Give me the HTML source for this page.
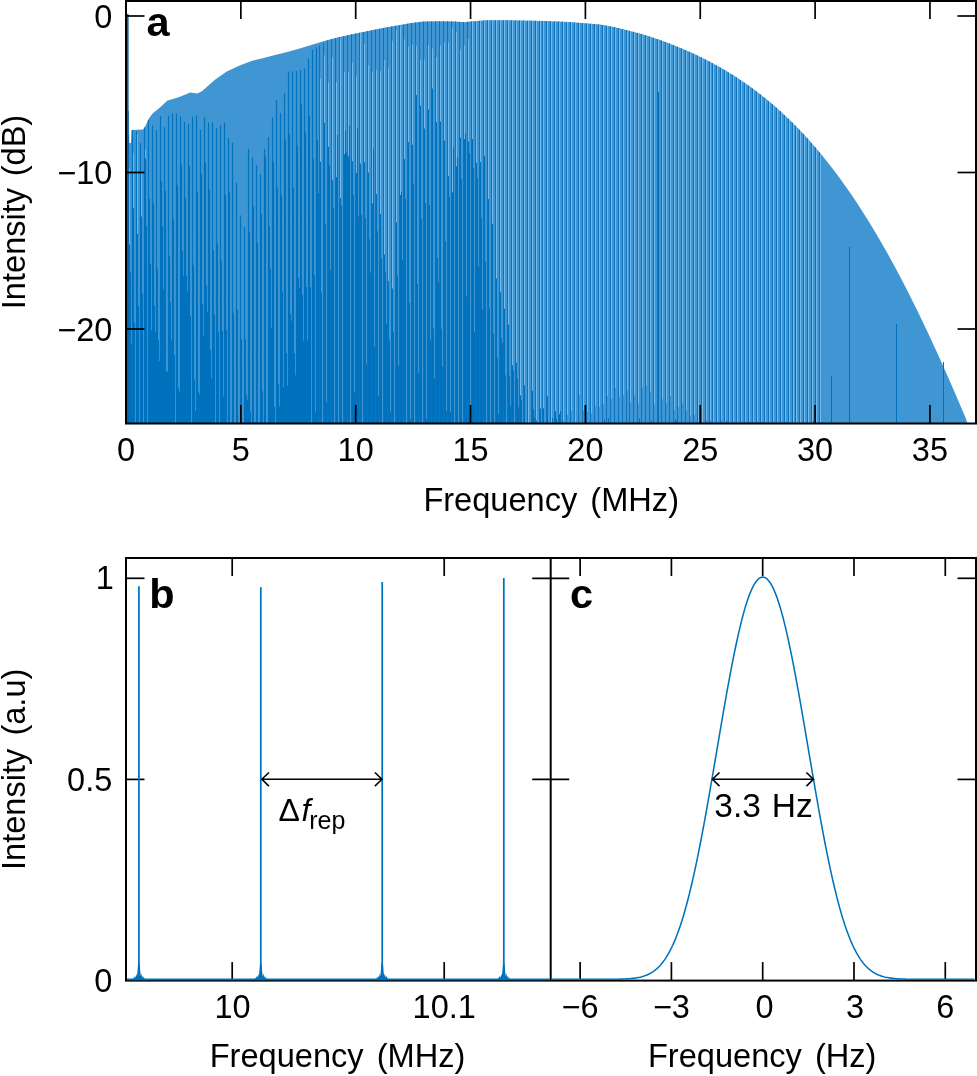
<!DOCTYPE html>
<html lang="en">
<head>
<meta charset="utf-8">
<title>Dual-comb RF spectrum figure</title>
<style>
html,body{margin:0;padding:0;background:#fff;}
body{width:977px;height:1076px;overflow:hidden;}
svg{display:block;font-family:'Liberation Sans', sans-serif;fill:#000;}
</style>
</head>
<body>
<svg width="977" height="1076" viewBox="0 0 977 1076">
<rect width="977" height="1076" fill="#fff"/>
<g id="panel-a">
<path fill="#3F96D2" d="M127.8 424L127.8 111L129 111L129.2 143L131 143L131.5 130L143 129.5L143.5 129L145.4 126L148.7 118.7L152.8 113.3L156.9 110L161 106.4L167.5 100.6L177.3 97.8L185.5 94.5L190 92.6L197.4 93.4L202.3 91.1L214.6 80.1L226.8 71.5L239.1 65.8L251.4 60.9L263.7 58L276 54.8L288.3 51.8L300.5 48.2L312.8 44.5L325.1 40.8L337.4 37.6L349.7 34.7L362 32.2L374.2 29.7L386.5 27.3L398.8 25.3L411.1 23.1L423.4 21.6L438 21.2L455 21.4L464.5 22.2L470 21.6L487 20.3L505 20.2L520 20.5L545 21L569 22L600 24.62L606 25.62L612 26.75L618 28L624 29.39L630 30.89L636 32.5L642 34.23L648 36.07L654 38.02L660 40.08L666 42.25L672 44.53L678 46.93L684 49.45L690 52.09L696 54.86L702 57.77L708 60.81L714 64L720 67.34L726 70.85L732 74.52L738 78.36L744 82.39L750 86.61L756 91.04L762 95.66L768 100.51L774 105.58L780 110.89L786 116.44L792 122.24L798 128.29L804 134.62L810 141.21L816 148.09L822 155.25L828 162.71L834 170.47L840 178.53L846 186.9L852 195.58L858 204.58L864 213.9L870 223.54L876 233.49L882 243.77L888 254.37L894 265.29L900 276.52L906 288.06L912 299.91L918 312.05L924 324.49L930 337.21L936 350.2L942 363.45L948 376.95L954 390.68L960 404.63L966 418.77L967.5 424L967.5 424z"/>
<path fill="#74BBEE" d="M129 424V168.19h1V424zM133 424V152.95h1V424zM137 424V133.82h1V424zM141 424V172.98h1V424zM145 424V149.56h1V424zM320 424V78.45h1V424zM324 424V55.22h1V424zM328 424V82.67h1V424zM332 424V57.5h1V424zM336 424V82.03h1V424zM340 424V38.74h1V424zM344 424V71.54h1V424zM348 424V72.32h1V424zM352 424V62.44h1V424zM356 424V76.45h1V424zM360 424V32.99h1V424zM364 424V43.94h1V424zM368 424V64.9h1V424zM372 424V72.02h1V424zM376 424V70.2h1V424zM380 424V70.96h1V424zM384 424V60.18h1V424zM388 424V67.47h1V424zM392 424V40.74h1V424zM396 424V29.4h1V424zM400 424V26.27h1V424zM404 424V39.36h1V424zM408 424V46.81h1V424zM412 424V45.1h1V424zM416 424V46.14h1V424zM420 424V59.92h1V424zM424 424V59.61h1V424zM428 424V45.05h1V424zM432 424V48.59h1V424zM436 424V57.29h1V424zM440 424V45.47h1V424zM444 424V42.57h1V424zM448 424V42.77h1V424zM452 424V27.2h1V424zM456 424V31.75h1V424zM460 424V49.75h1V424zM464 424V45.17h1V424zM468 424V38.67h1V424zM472 424V21.41h1V424zM476 424V21.1h1V424zM480 424V20.8h1V424zM484 424V20.49h1V424zM488 424V20.29h1V424zM492 424V20.27h1V424zM496 424V20.25h1V424zM500 424V20.23h1V424zM504 424V20.2h1V424zM508 424V20.27h1V424zM512 424V20.35h1V424zM516 424V20.43h1V424zM520 424V20.51h1V424zM524 424V20.59h1V424zM528 424V20.67h1V424zM532 424V20.75h1V424zM536 424V20.83h1V424zM540 424V20.91h1V424zM543 424V20.97h1V424zM547 424V21.1h1V424zM551 424V21.27h1V424zM555 424V21.44h1V424zM559 424V21.6h1V424zM563 424V21.77h1V424zM567 424V21.94h1V424zM571 424V22.21h1V424zM575 424V22.55h1V424zM579 424V22.89h1V424zM583 424V23.23h1V424zM587 424V23.57h1V424zM591 424V23.9h1V424zM595 424V24.24h1V424zM599 424V24.58h1V424zM603 424V25.2h1V424zM607 424V25.9h1V424zM611 424V26.65h1V424zM615 424V27.48h1V424zM619 424V28.35h1V424zM623 424V29.27h1V424zM627 424V30.26h1V424zM630 424V31.02h1V424zM634 424V32.1h1V424zM638 424V33.22h1V424zM642 424V34.38h1V424zM646 424V35.61h1V424zM650 424V36.88h1V424zM654 424V38.19h1V424zM658 424V39.56h1V424zM662 424V40.98h1V424zM666 424V42.44h1V424zM670 424V43.96h1V424zM674 424V45.53h1V424zM678 424V47.14h1V424zM682 424V48.82h1V424zM686 424V50.55h1V424zM690 424V52.32h1V424zM694 424V54.17h1V424zM698 424V56.07h1V424zM702 424V58.02h1V424zM706 424V60.05h1V424zM710 424V62.14h1V424zM713 424V63.73h1V424zM717 424V65.95h1V424zM721 424V68.22h1V424zM725 424V70.55h1V424zM729 424V72.99h1V424zM733 424V75.48h1V424zM737 424V78.04h1V424zM741 424V80.71h1V424zM745 424V83.45h1V424zM749 424V86.26h1V424zM753 424V89.19h1V424zM757 424V92.19h1V424zM761 424V95.28h1V424zM765 424V98.49h1V424zM769 424V101.78h1V424zM773 424V105.16h1V424zM777 424V108.68h1V424zM781 424V112.28h1V424zM785 424V115.98h1V424zM789 424V119.82h1V424zM793 424V123.75h1V424zM796 424V126.78h1V424zM800 424V130.93h1V424zM804 424V135.17h1V424zM808 424V139.56h1V424zM812 424V144.08h1V424zM816 424V148.69h1V424zM820 424V153.46h1V424z"/>
<path fill="#0C74BE" d="M319 424V45.5h1V424zM323 424V43h1V424zM327 424V40.18h1V424zM331 424V39.13h1V424zM335 424V38.09h1V424zM339 424V37.1h1V424zM343 424V36.16h1V424zM347 424V35.22h1V424zM351 424V34.33h1V424zM355 424V33.52h1V424zM359 424V32.71h1V424zM363 424V31.89h1V424zM367 424V31.07h1V424zM371 424V30.25h1V424zM375 424V29.45h1V424zM379 424V28.67h1V424zM383 424V27.89h1V424zM387 424V27.14h1V424zM391 424V26.49h1V424zM395 424V25.84h1V424zM399 424V25.17h1V424zM403 424V24.46h1V424zM407 424V23.74h1V424zM411 424V23.05h1V424zM415 424V22.56h1V424zM419 424V22.08h1V424zM423 424V21.6h1V424zM427 424V21.49h1V424zM431 424V21.38h1V424zM435 424V21.27h1V424zM439 424V21.22h1V424zM443 424V21.26h1V424zM447 424V21.31h1V424zM451 424V21.36h1V424zM455 424V21.44h1V424zM459 424V21.78h1V424zM463 424V22.12h1V424zM467 424V21.87h1V424zM471 424V21.49h1V424zM475 424V21.18h1V424zM479 424V20.87h1V424zM483 424V20.57h1V424zM487 424V20.3h1V424zM491 424V20.27h1V424zM495 424V20.25h1V424zM499 424V20.23h1V424zM503 424V20.21h1V424zM507 424V20.25h1V424zM511 424V20.33h1V424zM515 424V20.41h1V424zM519 424V20.49h1V424zM523 424V20.57h1V424zM527 424V20.65h1V424zM531 424V20.73h1V424zM535 424V20.81h1V424zM539 424V20.89h1V424zM542 424V20.95h1V424zM546 424V21.06h1V424zM550 424V21.23h1V424zM554 424V21.4h1V424zM558 424V21.56h1V424zM562 424V21.73h1V424zM566 424V21.9h1V424zM570 424V22.13h1V424zM574 424V22.47h1V424zM578 424V22.8h1V424zM582 424V23.14h1V424zM586 424V23.48h1V424zM590 424V23.82h1V424zM594 424V24.16h1V424zM598 424V24.5h1V424zM602 424V25.04h1V424zM606 424V25.71h1V424zM610 424V26.46h1V424zM614 424V27.27h1V424zM618 424V28.12h1V424zM622 424V29.04h1V424zM626 424V30.01h1V424zM629 424V30.76h1V424zM633 424V31.83h1V424zM637 424V32.94h1V424zM641 424V34.09h1V424zM645 424V35.3h1V424zM649 424V36.56h1V424zM653 424V37.86h1V424zM657 424V39.22h1V424zM661 424V40.62h1V424zM665 424V42.07h1V424zM669 424V43.58h1V424zM673 424V45.13h1V424zM677 424V46.73h1V424zM681 424V48.4h1V424zM685 424V50.11h1V424zM689 424V51.87h1V424zM693 424V53.71h1V424zM697 424V55.59h1V424zM701 424V57.52h1V424zM705 424V59.54h1V424zM709 424V61.61h1V424zM712 424V63.2h1V424zM716 424V65.39h1V424zM720 424V67.64h1V424zM724 424V69.97h1V424zM728 424V72.38h1V424zM732 424V74.84h1V424zM736 424V77.4h1V424zM740 424V80.04h1V424zM744 424V82.74h1V424zM748 424V85.56h1V424zM752 424V88.46h1V424zM756 424V91.42h1V424zM760 424V94.51h1V424zM764 424V97.68h1V424zM768 424V100.93h1V424zM772 424V104.32h1V424zM776 424V107.79h1V424zM780 424V111.35h1V424zM784 424V115.05h1V424zM788 424V118.85h1V424zM792 424V122.74h1V424zM795 424V125.77h1V424zM799 424V129.87h1V424zM803 424V134.09h1V424zM807 424V138.46h1V424zM811 424V142.93h1V424zM815 424V147.52h1V424zM819 424V152.27h1V424z"/>
<path fill="#0072BD" d="M127.92 424V134.98h1.16V424zM129 424V244.59h1V424zM130 424V272.39h1V424zM131 424V343.63h1V424zM131.92 424V129.96h1.16V424zM133 424V208.23h1V424zM134 424V322.58h1V424zM135.92 424V131.46h1.16V424zM137 424V234.12h1V424zM138 424V306.19h1V424zM139.92 424V143.26h1.16V424zM141 424V216.46h1V424zM142 424V293.17h1V424zM143.92 424V127.42h1.16V424zM145 424V158.55h1V424zM146 424V225.94h1V424zM147.92 424V119.92h1.16V424zM149 424V198.88h1V424zM150 424V264.12h1V424zM151 424V330.52h1V424zM151.92 424V125.53h1.16V424zM153 424V203.65h1V424zM154 424V305.41h1V424zM155 424V331.8h1V424zM155.92 424V129.96h1.16V424zM157 424V268.38h1V424zM158 424V339.81h1V424zM159 424V361.04h1V424zM159.92 424V116.13h1.16V424zM161 424V180.91h1V424zM162 424V226.35h1V424zM163 424V289.66h1V424zM163.92 424V127.24h1.16V424zM165 424V190.97h1V424zM166 424V371.52h1V424zM167 424V371.54h1V424zM167.92 424V115.77h1.16V424zM169 424V256.35h1V424zM170 424V302.05h1V424zM171 424V340.82h1V424zM171.92 424V113.31h1.16V424zM173 424V219.26h1V424zM174 424V354.95h1V424zM175.92 424V113.57h1.16V424zM177 424V185.29h1V424zM178 424V388.04h1V424zM179 424V391.43h1V424zM179.92 424V116.43h1.16V424zM181 424V164.59h1V424zM182 424V251.12h1V424zM183 424V275.7h1V424zM183.92 424V122.07h1.16V424zM185 424V197.67h1V424zM186 424V275.66h1V424zM187 424V291.21h1V424zM187.92 424V123.59h1.16V424zM189 424V165.72h1V424zM190 424V315.69h1V424zM191.92 424V116.86h1.16V424zM193 424V264.86h1V424zM194 424V379.53h1V424zM195 424V411.01h1V424zM195.92 424V115.79h1.16V424zM197 424V191.8h1V424zM198 424V391.61h1V424zM199 424V394.21h1V424zM199.92 424V129.81h1.16V424zM201 424V173.75h1V424zM202 424V304.33h1V424zM203 424V335.82h1V424zM203.92 424V117.33h1.16V424zM205 424V162.69h1V424zM206 424V285.37h1V424zM207 424V312.32h1V424zM207.92 424V122.82h1.16V424zM209 424V189.38h1V424zM210 424V349.28h1V424zM211 424V378.2h1V424zM211.92 424V122.34h1.16V424zM213 424V250.31h1V424zM214 424V314.38h1V424zM215.92 424V128.35h1.16V424zM217 424V243.69h1V424zM218 424V332.05h1V424zM219.92 424V125.31h1.16V424zM221 424V260.56h1V424zM222 424V331.07h1V424zM223 424V396.65h1V424zM223.92 424V122.86h1.16V424zM225 424V194.77h1V424zM226 424V329.46h1V424zM227.92 424V137.73h1.16V424zM229 424V192.06h1V424zM231.92 424V142.38h1.16V424zM233 424V312.66h1V424zM235.92 424V182.53h1.16V424zM237 424V309.53h1V424zM239.92 424V215.57h1.16V424zM241 424V339.34h1V424zM243.92 424V227.22h1.16V424zM245 424V339.48h1V424zM246 424V394.88h1V424zM247 424V399.63h1V424zM247.92 424V148.7h1.16V424zM249 424V232.53h1V424zM250 424V411.47h1V424zM251.92 424V157.67h1.16V424zM253 424V206.84h1V424zM254 424V421.97h1V424zM255.92 424V165.02h1.16V424zM257 424V242.71h1V424zM259.92 424V174.32h1.16V424zM261 424V213.88h1V424zM262 424V391.24h1V424zM263.92 424V148.8h1.16V424zM265 424V156.43h1V424zM267.92 424V136.95h1.16V424zM269 424V226.15h1V424zM270 424V268.72h1V424zM271 424V328.62h1V424zM271.92 424V117.38h1.16V424zM273 424V162.11h1V424zM274 424V406.56h1V424zM275.92 424V99.94h1.16V424zM277 424V187.8h1V424zM278 424V384.13h1V424zM279 424V406.57h1V424zM279.92 424V112.76h1.16V424zM281 424V195.28h1V424zM282 424V291.62h1V424zM283 424V387.02h1V424zM283.92 424V93.23h1.16V424zM285 424V139.67h1V424zM286 424V353.09h1V424zM287 424V385.59h1V424zM287.92 424V71.75h1.16V424zM289 424V134.26h1V424zM290 424V313.71h1V424zM291 424V320.78h1V424zM291.92 424V71.34h1.16V424zM293 424V187.97h1V424zM294 424V353.09h1V424zM295 424V375.13h1V424zM295.92 424V71.11h1.16V424zM297 424V145.49h1V424zM298 424V277.6h1V424zM299 424V287.42h1V424zM299.92 424V70.3h1.16V424zM301 424V104.49h1V424zM302 424V294.42h1V424zM303 424V340.77h1V424zM303.92 424V68.39h1.16V424zM305 424V132.58h1V424zM306 424V286.91h1V424zM307 424V339.71h1V424zM307.92 424V58.82h1.16V424zM309 424V115.91h1V424zM310 424V287.28h1V424zM311.92 424V49.77h1.16V424zM313 424V158.57h1V424zM314 424V274.88h1V424zM315 424V412.51h1V424zM315.92 424V47.38h1.16V424zM317 424V139.88h1V424zM318 424V193.32h1V424zM320 424V161.77h1V424zM321 424V292.5h1V424zM324 424V122.77h1V424zM325 424V223.97h1V424zM326 424V402.3h1V424zM328 424V146.66h1V424zM329 424V165.16h1V424zM330 424V270.05h1V424zM332 424V180.35h1V424zM333 424V208.07h1V424zM336 424V177.16h1V424zM337 424V134.92h1V424zM340 424V198.18h1V424zM341 424V205.16h1V424zM344 424V154.16h1V424zM345 424V130.85h1V424zM346 424V152.84h1V424zM348 424V156.35h1V424zM349 424V125.13h1V424zM352 424V161.37h1V424zM353 424V194.92h1V424zM354 424V392.14h1V424zM356 424V172.88h1V424zM357 424V127.7h1V424zM358 424V216.45h1V424zM360 424V163.71h1V424zM361 424V214.41h1V424zM364 424V162.37h1V424zM365 424V218.18h1V424zM366 424V364.54h1V424zM368 424V172.5h1V424zM369 424V239.34h1V424zM370 424V272.82h1V424zM372 424V203.14h1V424zM373 424V148.42h1V424zM374 424V346.86h1V424zM376 424V193.96h1V424zM377 424V231.22h1V424zM378 424V395.65h1V424zM380 424V213.92h1V424zM381 424V258.42h1V424zM384 424V254.43h1V424zM385 424V272.49h1V424zM386 424V323.86h1V424zM388 424V281.05h1V424zM389 424V340.87h1V424zM390 424V411.4h1V424zM392 424V288.42h1V424zM393 424V331.78h1V424zM396 424V222.4h1V424zM397 424V275.62h1V424zM398 424V365.35h1V424zM400 424V195.03h1V424zM401 424V192.09h1V424zM402 424V259.98h1V424zM404 424V159.11h1V424zM405 424V198.82h1V424zM408 424V141.99h1V424zM409 424V302.74h1V424zM410 424V419.36h1V424zM412 424V144.82h1V424zM413 424V183.82h1V424zM416 424V94.93h1V424zM417 424V284.1h1V424zM418 424V372.95h1V424zM420 424V105.42h1V424zM421 424V219.02h1V424zM424 424V128.58h1V424zM425 424V202.89h1V424zM426 424V419.09h1V424zM428 424V109.57h1V424zM429 424V205.22h1V424zM430 424V340.49h1V424zM432 424V88.52h1V424zM433 424V328.56h1V424zM434 424V378.87h1V424zM436 424V122.13h1V424zM437 424V257.4h1V424zM438 424V282.23h1V424zM440 424V121.46h1V424zM441 424V328.74h1V424zM442 424V366.76h1V424zM444 424V140.64h1V424zM445 424V241.34h1V424zM446 424V411.09h1V424zM448 424V176.37h1V424zM449 424V197.11h1V424zM450 424V411.99h1V424zM452 424V192.31h1V424zM453 424V147.23h1V424zM456 424V166.42h1V424zM457 424V157.44h1V424zM460 424V137.6h1V424zM461 424V179.09h1V424zM464 424V138.96h1V424zM465 424V133.52h1V424zM466 424V296.19h1V424zM468 424V141.51h1V424zM469 424V153.27h1V424zM472 424V139.01h1V424zM473 424V168.32h1V424zM474 424V332.18h1V424zM476 424V162.73h1V424zM477 424V177.91h1V424zM478 424V266.59h1V424zM480 424V161.91h1V424zM481 424V217.76h1V424zM482 424V309.81h1V424zM484 424V155.68h1V424zM485 424V261.26h1V424zM488 424V198.94h1V424zM489 424V308.38h1V424zM492 424V223.68h1V424zM493 424V333.29h1V424zM496 424V278.45h1V424zM497 424V358.1h1V424zM498 424V413.97h1V424zM500 424V292.17h1V424zM501 424V338.19h1V424zM502 424V343.3h1V424zM504 424V308.72h1V424zM505 424V375.37h1V424zM506 424V422.92h1V424zM508 424V324.79h1V424zM509 424V376.6h1V424zM510 424V405.89h1V424zM512 424V365.37h1V424zM513 424V371.06h1V424zM516 424V362.54h1V424zM517 424V378.87h1V424zM518 424V407.23h1V424zM520 424V395.27h1V424zM521 424V399.88h1V424zM524 424V385.37h1V424zM532 424V390.69h1V424zM533 424V409.17h1V424zM534 424V417.81h1V424zM536 424V420.57h1V424zM540 424V408.61h1V424zM543 424V408.16h1V424zM547 424V396.34h1V424zM552 424V417.9h1V424zM553 424V422.84h1V424zM555 424V411.36h1V424zM556 424V418.93h1V424zM559 424V414.18h1V424zM560 424V411.09h1V424zM561 424V422.15h1V424zM563.25 424V420.46h0.5V424zM567.25 424V414.67h0.5V424zM571.25 424V411.05h0.5V424zM579.25 424V395.06h0.5V424zM583.25 424V410.38h0.5V424zM587.25 424V411.89h0.5V424zM591.25 424V413.62h0.5V424zM595.25 424V405.74h0.5V424zM599.25 424V406.92h0.5V424zM603.25 424V404.23h0.5V424zM604 424V419.44h1V424zM607.25 424V395.83h0.5V424zM608 424V417.91h1V424zM611.25 424V398.81h0.5V424zM615.25 424V387.7h0.5V424zM619.25 424V396.51h0.5V424zM623.25 424V394.83h0.5V424zM627.25 424V390.16h0.5V424zM630.25 424V402.56h0.5V424zM634.25 424V395.3h0.5V424zM638.25 424V403.47h0.5V424zM639 424V418.5h1V424zM640 424V422.95h1V424zM642.25 424V387.49h0.5V424zM646.25 424V385.48h0.5V424zM650.25 424V391.79h0.5V424zM651 424V420.58h1V424zM654.25 424V404.54h0.5V424zM658.25 424V396.39h0.5V424zM662.25 424V399.26h0.5V424zM666.25 424V403.01h0.5V424zM670.25 424V395.88h0.5V424zM674.25 424V410.05h0.5V424zM675 424V419.4h1V424zM676 424V420.68h1V424zM678.25 424V406.73h0.5V424zM679 424V422.66h1V424zM682.25 424V403.17h0.5V424zM686.25 424V410.57h0.5V424zM690.25 424V415.95h0.5V424zM694.25 424V414.81h0.5V424zM706.25 424V420.15h0.5V424zM710.25 424V420.39h0.5V424zM711 424V422.62h1V424zM721.25 424V420.61h0.5V424zM726 424V420.59h1V424zM727 424V422.48h1V424zM733.25 424V422.87h0.5V424zM749.25 424V421.61h0.5V424zM757.25 424V421.15h0.5V424zM761.25 424V421.88h0.5V424zM786 424V422.18h1V424zM813 424V420.48h1V424zM821 424V422.19h1V424zM822 424V422.48h1V424z"/>
<rect x="127" y="14" width="1.6" height="410" fill="#0a5fa0"/>
<rect x="658" y="92" width="1" height="332" fill="#0072BD"/>
<rect x="831" y="376" width="1" height="48" fill="#0072BD"/>
<rect x="849" y="247" width="1" height="177" fill="#0072BD"/>
<rect x="896" y="324" width="1" height="100" fill="#0072BD"/>
<rect x="943" y="362" width="1" height="62" fill="#0072BD"/>
</g>
<g id="axes-a">
<rect x="126" y="1" width="850" height="422.5" fill="none" stroke="#000" stroke-width="2"/>
<line x1="240.85" y1="423.5" x2="240.85" y2="405" stroke="#000" stroke-width="1.7"/>
<line x1="240.85" y1="1" x2="240.85" y2="19" stroke="#000" stroke-width="1.7"/>
<line x1="355.7" y1="423.5" x2="355.7" y2="405" stroke="#000" stroke-width="1.7"/>
<line x1="355.7" y1="1" x2="355.7" y2="19" stroke="#000" stroke-width="1.7"/>
<line x1="470.55" y1="423.5" x2="470.55" y2="405" stroke="#000" stroke-width="1.7"/>
<line x1="470.55" y1="1" x2="470.55" y2="19" stroke="#000" stroke-width="1.7"/>
<line x1="585.4" y1="423.5" x2="585.4" y2="405" stroke="#000" stroke-width="1.7"/>
<line x1="585.4" y1="1" x2="585.4" y2="19" stroke="#000" stroke-width="1.7"/>
<line x1="700.25" y1="423.5" x2="700.25" y2="405" stroke="#000" stroke-width="1.7"/>
<line x1="700.25" y1="1" x2="700.25" y2="19" stroke="#000" stroke-width="1.7"/>
<line x1="815.1" y1="423.5" x2="815.1" y2="405" stroke="#000" stroke-width="1.7"/>
<line x1="815.1" y1="1" x2="815.1" y2="19" stroke="#000" stroke-width="1.7"/>
<line x1="929.95" y1="423.5" x2="929.95" y2="405" stroke="#000" stroke-width="1.7"/>
<line x1="929.95" y1="1" x2="929.95" y2="19" stroke="#000" stroke-width="1.7"/>
<line x1="126" y1="16" x2="144.5" y2="16" stroke="#000" stroke-width="1.7"/>
<line x1="976" y1="16" x2="957.5" y2="16" stroke="#000" stroke-width="1.7"/>
<line x1="126" y1="172.5" x2="144.5" y2="172.5" stroke="#000" stroke-width="1.7"/>
<line x1="976" y1="172.5" x2="957.5" y2="172.5" stroke="#000" stroke-width="1.7"/>
<line x1="126" y1="329" x2="144.5" y2="329" stroke="#000" stroke-width="1.7"/>
<line x1="976" y1="329" x2="957.5" y2="329" stroke="#000" stroke-width="1.7"/>
</g>
<g id="labels-a">
<text x="126" y="460.9" font-size="32.5" text-anchor="middle">0</text>
<text x="240.85" y="460.9" font-size="32.5" text-anchor="middle">5</text>
<text x="355.7" y="460.9" font-size="32.5" text-anchor="middle">10</text>
<text x="470.55" y="460.9" font-size="32.5" text-anchor="middle">15</text>
<text x="585.4" y="460.9" font-size="32.5" text-anchor="middle">20</text>
<text x="700.25" y="460.9" font-size="32.5" text-anchor="middle">25</text>
<text x="815.1" y="460.9" font-size="32.5" text-anchor="middle">30</text>
<text x="929.95" y="460.9" font-size="32.5" text-anchor="middle">35</text>
<text x="112.3" y="27.6" font-size="32.5" text-anchor="end">0</text>
<text x="112.3" y="184.1" font-size="32.5" text-anchor="end">−10</text>
<text x="112.3" y="340.6" font-size="32.5" text-anchor="end">−20</text>
<text x="551.2" y="511" font-size="32.6" text-anchor="middle" word-spacing="4">Frequency (MHz)</text>
<text transform="translate(25 212) rotate(-90)" font-size="32.6" text-anchor="middle" word-spacing="2.5">Intensity (dB)</text>
<text x="146.5" y="36" font-size="41.5" text-anchor="start" font-weight="bold">a</text>
</g>
<g id="panel-b">
</g>
<g id="axes-bc">
<rect x="126" y="558" width="850" height="422.6" fill="none" stroke="#000" stroke-width="2"/>
<line x1="550.7" y1="558" x2="550.7" y2="980.6" stroke="#000" stroke-width="2"/>
<line x1="232.2" y1="980.6" x2="232.2" y2="962.1" stroke="#000" stroke-width="1.7"/>
<line x1="232.2" y1="558" x2="232.2" y2="576" stroke="#000" stroke-width="1.7"/>
<line x1="444.2" y1="980.6" x2="444.2" y2="962.1" stroke="#000" stroke-width="1.7"/>
<line x1="444.2" y1="558" x2="444.2" y2="576" stroke="#000" stroke-width="1.7"/>
<line x1="580.12" y1="980.6" x2="580.12" y2="962.1" stroke="#000" stroke-width="1.7"/>
<line x1="580.12" y1="558" x2="580.12" y2="576" stroke="#000" stroke-width="1.7"/>
<line x1="671.41" y1="980.6" x2="671.41" y2="962.1" stroke="#000" stroke-width="1.7"/>
<line x1="671.41" y1="558" x2="671.41" y2="576" stroke="#000" stroke-width="1.7"/>
<line x1="762.7" y1="980.6" x2="762.7" y2="962.1" stroke="#000" stroke-width="1.7"/>
<line x1="762.7" y1="558" x2="762.7" y2="576" stroke="#000" stroke-width="1.7"/>
<line x1="853.99" y1="980.6" x2="853.99" y2="962.1" stroke="#000" stroke-width="1.7"/>
<line x1="853.99" y1="558" x2="853.99" y2="576" stroke="#000" stroke-width="1.7"/>
<line x1="945.28" y1="980.6" x2="945.28" y2="962.1" stroke="#000" stroke-width="1.7"/>
<line x1="945.28" y1="558" x2="945.28" y2="576" stroke="#000" stroke-width="1.7"/>
<line x1="126" y1="578.3" x2="144.5" y2="578.3" stroke="#000" stroke-width="1.7"/>
<line x1="532.2" y1="578.3" x2="569.2" y2="578.3" stroke="#000" stroke-width="1.7"/>
<line x1="976" y1="578.3" x2="957.5" y2="578.3" stroke="#000" stroke-width="1.7"/>
<line x1="126" y1="779.4" x2="144.5" y2="779.4" stroke="#000" stroke-width="1.7"/>
<line x1="532.2" y1="779.4" x2="569.2" y2="779.4" stroke="#000" stroke-width="1.7"/>
<line x1="976" y1="779.4" x2="957.5" y2="779.4" stroke="#000" stroke-width="1.7"/>
</g>
<path d="M127 979.3H549.7M138.9 979.3V586.3M260.8 979.3V587.2M382.2 979.3V582M503.8 979.3V578" fill="none" stroke="#0072BD" stroke-width="1.75"/>
<path d="M131.9 979.3L133.9 978.1L134.9 976.1L135.6 977.7L136.3 973.8L136.9 976.3L137.5 971.3L138.1 963.3L139.7 963.3L140.3 971.8L140.9 976.3L141.6 973.3L142.2 977.7L142.9 975.7L143.9 978.1L145.9 979.3zM253.8 979.3L255.8 978.1L256.8 976.1L257.5 977.7L258.2 973.8L258.8 976.3L259.4 971.3L260 963.3L261.6 963.3L262.2 971.8L262.8 976.3L263.5 973.3L264.1 977.7L264.8 975.7L265.8 978.1L267.8 979.3zM375.2 979.3L377.2 978.1L378.2 976.1L378.9 977.7L379.6 973.8L380.2 976.3L380.8 971.3L381.4 963.3L383 963.3L383.6 971.8L384.2 976.3L384.9 973.3L385.5 977.7L386.2 975.7L387.2 978.1L389.2 979.3zM496.8 979.3L498.8 978.1L499.8 976.1L500.5 977.7L501.2 973.8L501.8 976.3L502.4 971.3L503 963.3L504.6 963.3L505.2 971.8L505.8 976.3L506.5 973.3L507.1 977.7L507.8 975.7L508.8 978.1L510.8 979.3z" fill="#0072BD"/>
<path d="M551.21 979.3L552.27 979.3L553.33 979.3L554.38 979.3L555.44 979.3L556.5 979.3L557.56 979.3L558.61 979.3L559.67 979.3L560.73 979.3L561.79 979.3L562.84 979.3L563.9 979.3L564.96 979.3L566.02 979.3L567.07 979.3L568.13 979.3L569.19 979.3L570.25 979.3L571.3 979.3L572.36 979.3L573.42 979.3L574.48 979.3L575.53 979.3L576.59 979.3L577.65 979.3L578.71 979.3L579.76 979.3L580.82 979.3L581.88 979.3L582.93 979.3L583.99 979.3L585.05 979.3L586.11 979.3L587.16 979.3L588.22 979.3L589.28 979.3L590.34 979.3L591.39 979.3L592.45 979.3L593.51 979.3L594.57 979.3L595.62 979.3L596.68 979.3L597.74 979.3L598.8 979.3L599.85 979.29L600.91 979.29L601.97 979.29L603.03 979.29L604.08 979.29L605.14 979.28L606.2 979.28L607.26 979.28L608.31 979.27L609.37 979.27L610.43 979.26L611.49 979.25L612.54 979.24L613.6 979.23L614.66 979.22L615.72 979.21L616.77 979.19L617.83 979.17L618.89 979.15L619.95 979.13L621 979.1L622.06 979.07L623.12 979.03L624.18 978.99L625.23 978.94L626.29 978.89L627.35 978.83L628.4 978.76L629.46 978.68L630.52 978.59L631.58 978.49L632.63 978.38L633.69 978.26L634.75 978.12L635.81 977.96L636.86 977.79L637.92 977.6L638.98 977.39L640.04 977.16L641.09 976.9L642.15 976.61L643.21 976.3L644.27 975.96L645.32 975.58L646.38 975.17L647.44 974.73L648.5 974.24L649.55 973.71L650.61 973.13L651.67 972.51L652.73 971.83L653.78 971.1L654.84 970.32L655.9 969.47L656.96 968.56L658.01 967.58L659.07 966.53L660.13 965.41L661.19 964.21L662.24 962.93L663.3 961.57L664.36 960.12L665.42 958.58L666.47 956.95L667.53 955.22L668.59 953.39L669.65 951.46L670.7 949.42L671.76 947.28L672.82 945.02L673.87 942.65L674.93 940.17L675.99 937.57L677.05 934.84L678.1 932L679.16 929.03L680.22 925.94L681.28 922.72L682.33 919.38L683.39 915.91L684.45 912.3L685.51 908.58L686.56 904.72L687.62 900.73L688.68 896.62L689.74 892.38L690.79 888.02L691.85 883.53L692.91 878.93L693.97 874.2L695.02 869.35L696.08 864.4L697.14 859.33L698.2 854.15L699.25 848.87L700.31 843.49L701.37 838.01L702.43 832.44L703.48 826.79L704.54 821.05L705.6 815.24L706.66 809.36L707.71 803.41L708.77 797.41L709.83 791.35L710.89 785.24L711.94 779.1L713 772.92L714.06 766.72L715.12 760.5L716.17 754.27L717.23 748.03L718.29 741.8L719.34 735.57L720.4 729.37L721.46 723.19L722.52 717.05L723.57 710.94L724.63 704.89L725.69 698.89L726.75 692.96L727.8 687.1L728.86 681.32L729.92 675.63L730.98 670.03L732.03 664.54L733.09 659.16L734.15 653.89L735.21 648.75L736.26 643.74L737.32 638.86L738.38 634.13L739.44 629.55L740.49 625.13L741.55 620.88L742.61 616.79L743.67 612.87L744.72 609.14L745.78 605.59L746.84 602.23L747.9 599.06L748.95 596.1L750.01 593.33L751.07 590.78L752.13 588.43L753.18 586.3L754.24 584.38L755.3 582.68L756.36 581.21L757.41 579.96L758.47 578.93L759.53 578.13L760.59 577.56L761.64 577.21L762.7 577.1L763.76 577.21L764.81 577.56L765.87 578.13L766.93 578.93L767.99 579.96L769.04 581.21L770.1 582.68L771.16 584.38L772.22 586.3L773.27 588.43L774.33 590.78L775.39 593.33L776.45 596.1L777.5 599.06L778.56 602.23L779.62 605.59L780.68 609.14L781.73 612.87L782.79 616.79L783.85 620.88L784.91 625.13L785.96 629.55L787.02 634.13L788.08 638.86L789.14 643.74L790.19 648.75L791.25 653.89L792.31 659.16L793.37 664.54L794.42 670.03L795.48 675.63L796.54 681.32L797.6 687.1L798.65 692.96L799.71 698.89L800.77 704.89L801.83 710.94L802.88 717.05L803.94 723.19L805 729.37L806.06 735.57L807.11 741.8L808.17 748.03L809.23 754.27L810.28 760.5L811.34 766.72L812.4 772.92L813.46 779.1L814.51 785.24L815.57 791.35L816.63 797.41L817.69 803.41L818.74 809.36L819.8 815.24L820.86 821.05L821.92 826.79L822.97 832.44L824.03 838.01L825.09 843.49L826.15 848.87L827.2 854.15L828.26 859.33L829.32 864.4L830.38 869.35L831.43 874.2L832.49 878.93L833.55 883.53L834.61 888.02L835.66 892.38L836.72 896.62L837.78 900.73L838.84 904.72L839.89 908.58L840.95 912.3L842.01 915.91L843.07 919.38L844.12 922.72L845.18 925.94L846.24 929.03L847.3 932L848.35 934.84L849.41 937.57L850.47 940.17L851.53 942.65L852.58 945.02L853.64 947.28L854.7 949.42L855.75 951.46L856.81 953.39L857.87 955.22L858.93 956.95L859.98 958.58L861.04 960.12L862.1 961.57L863.16 962.93L864.21 964.21L865.27 965.41L866.33 966.53L867.39 967.58L868.44 968.56L869.5 969.47L870.56 970.32L871.62 971.1L872.67 971.83L873.73 972.51L874.79 973.13L875.85 973.71L876.9 974.24L877.96 974.73L879.02 975.17L880.08 975.58L881.13 975.96L882.19 976.3L883.25 976.61L884.31 976.9L885.36 977.16L886.42 977.39L887.48 977.6L888.54 977.79L889.59 977.96L890.65 978.12L891.71 978.26L892.77 978.38L893.82 978.49L894.88 978.59L895.94 978.68L897 978.76L898.05 978.83L899.11 978.89L900.17 978.94L901.22 978.99L902.28 979.03L903.34 979.07L904.4 979.1L905.45 979.13L906.51 979.15L907.57 979.17L908.63 979.19L909.68 979.21L910.74 979.22L911.8 979.23L912.86 979.24L913.91 979.25L914.97 979.26L916.03 979.27L917.09 979.27L918.14 979.28L919.2 979.28L920.26 979.28L921.32 979.29L922.37 979.29L923.43 979.29L924.49 979.29L925.55 979.29L926.6 979.3L927.66 979.3L928.72 979.3L929.78 979.3L930.83 979.3L931.89 979.3L932.95 979.3L934.01 979.3L935.06 979.3L936.12 979.3L937.18 979.3L938.24 979.3L939.29 979.3L940.35 979.3L941.41 979.3L942.47 979.3L943.52 979.3L944.58 979.3L945.64 979.3L946.69 979.3L947.75 979.3L948.81 979.3L949.87 979.3L950.92 979.3L951.98 979.3L953.04 979.3L954.1 979.3L955.15 979.3L956.21 979.3L957.27 979.3L958.33 979.3L959.38 979.3L960.44 979.3L961.5 979.3L962.56 979.3L963.61 979.3L964.67 979.3L965.73 979.3L966.79 979.3L967.84 979.3L968.9 979.3L969.96 979.3L971.02 979.3L972.07 979.3L973.13 979.3L974.19 979.3" fill="none" stroke="#0072BD" stroke-width="1.55" stroke-linejoin="round"/>
<path d="M262.1 779.3H381.7M268.9 772.5L261.9 779.3L268.9 786.1M374.9 772.5L381.9 779.3L374.9 786.1" fill="none" stroke="#000" stroke-width="1.6" stroke-linejoin="miter"/>
<path d="M712.7 779.3H813.2M719.5 772.5L712.5 779.3L719.5 786.1M806.4 772.5L813.4 779.3L806.4 786.1" fill="none" stroke="#000" stroke-width="1.6" stroke-linejoin="miter"/>
<g id="labels-bc">
<text x="232.6" y="1017.5" font-size="32.5" text-anchor="middle">10</text>
<text x="444.2" y="1017.5" font-size="32.5" text-anchor="middle">10.1</text>
<text x="580.12" y="1017.5" font-size="32.5" text-anchor="middle">−6</text>
<text x="671.41" y="1017.5" font-size="32.5" text-anchor="middle">−3</text>
<text x="764.6" y="1017.5" font-size="32.5" text-anchor="middle">0</text>
<text x="854.99" y="1017.5" font-size="32.5" text-anchor="middle">3</text>
<text x="945.28" y="1017.5" font-size="32.5" text-anchor="middle">6</text>
<text x="113.8" y="588.5" font-size="32.5" text-anchor="end">1</text>
<text x="112.3" y="791" font-size="32.5" text-anchor="end">0.5</text>
<text x="112.3" y="992.1" font-size="32.5" text-anchor="end">0</text>
<text x="337.5" y="1067.2" font-size="32.6" text-anchor="middle" word-spacing="4">Frequency (MHz)</text>
<text x="762.2" y="1067.2" font-size="32.6" text-anchor="middle" word-spacing="4">Frequency (Hz)</text>
<text transform="translate(25 769.3) rotate(-90)" font-size="32.6" text-anchor="middle" word-spacing="4">Intensity (a.u)</text>
<text x="149.2" y="608.2" font-size="41.5" text-anchor="start" font-weight="bold">b</text>
<text x="570" y="608.2" font-size="41.5" text-anchor="start" font-weight="bold">c</text>
<text x="278.5" y="821" font-size="32" text-anchor="start">Δ<tspan font-style="italic" dx="1.5">f</tspan><tspan font-size="25" dy="8.3" dx="-1">rep</tspan></text>
<text x="763.5" y="817.3" font-size="33.5" text-anchor="middle" word-spacing="1.5">3.3 Hz</text>
</g>
</svg>
</body>
</html>
